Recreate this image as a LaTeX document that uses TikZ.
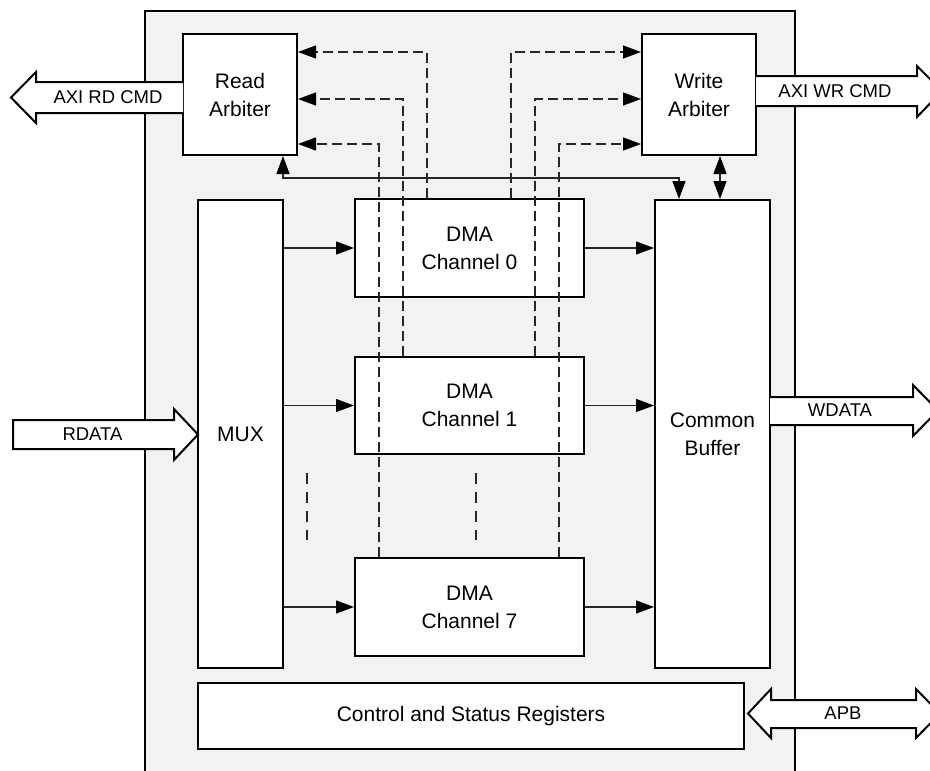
\documentclass[tikz,border=0pt]{standalone}
\usepackage{fontspec}
\setmainfont{Liberation Sans}
\usetikzlibrary{arrows.meta,calc}
\definecolor{bg}{HTML}{F2F2F2}
\begin{document}
\begin{tikzpicture}[x=1pt,y=-1pt,
  box/.style={draw=black,line width=2pt,fill=white,align=center,inner sep=0pt,font=\fontsize{21}{28}\selectfont},
  lin/.style={line width=1.2pt,draw=black!85},
  tip/.style={-{Triangle[length=18pt,width=13pt,black]}},
  dtip/.style={{Triangle[length=18pt,width=13pt,black]}-{Triangle[length=18pt,width=13pt,black]}},
  dsh/.style={lin,dash pattern=on 10pt off 5pt},
  fat/.style={line width=2pt,draw=black,fill=white,line join=miter},
  lab/.style={font=\fontsize{18.5}{20}\selectfont,inner sep=0pt}]
\useasboundingbox (0,0) rectangle (930,771);
% outer block
\fill[bg] (145,11) rectangle (795,771);
\draw[line width=2pt] (145,771) -- (145,11) -- (795,11) -- (795,771);

% blocks
\node[box,minimum width=114pt,minimum height=121pt] (ra) at (240,94.5) {Read\\Arbiter};
\node[box,minimum width=114pt,minimum height=121pt] (wa) at (699,94.5) {Write\\Arbiter};
\node[box,minimum width=85pt,minimum height=468pt] (mux) at (240.5,434) {MUX};
\node[box,minimum width=115pt,minimum height=468pt] (cb) at (712.5,434) {Common\\Buffer};
\node[box,minimum width=229pt,minimum height=98pt] (d0) at (469.5,248) {DMA\\Channel 0};
\node[box,minimum width=229pt,minimum height=97pt] (d1) at (469.5,405.5) {DMA\\Channel 1};
\node[box,minimum width=229pt,minimum height=98pt] (d7) at (469.5,607) {DMA\\Channel 7};
\node[box,minimum width=546pt,minimum height=66pt] (csr) at (471,716) {Control and Status Registers};

% helper coordinates
\coordinate (xa) at (379,0);
\coordinate (xb) at (403,0);
\coordinate (xc) at (427,0);
\coordinate (xd) at (511,0);
\coordinate (xe) at (535,0);
\coordinate (xf) at (559,0);
\coordinate (ya) at (0,52);
\coordinate (yb) at (0,99);
\coordinate (yc) at (0,144);
\coordinate (xl) at (283,0);
\coordinate (xr) at (679,0);
\coordinate (yl) at (0,178);
\coordinate (xw) at (720,0);

% dashed request lines
\draw[dsh,tip] (xc |- d0.north) |- (ra.east |- ya);
\draw[dsh,tip] (xb |- d1.north) |- (ra.east |- yb);
\draw[dsh,tip] (xa |- d7.north) |- (ra.east |- yc);
\draw[dsh,tip] (xd |- d0.north) |- (wa.west |- ya);
\draw[dsh,tip] (xe |- d1.north) |- (wa.west |- yb);
\draw[dsh,tip] (xf |- d7.north) |- (wa.west |- yc);

% ellipsis
\draw[lin,dash pattern=on 11pt off 8pt] (307,473) -- (307,540);
\draw[lin,dash pattern=on 11pt off 8pt] (476,473) -- (476,540);

% data arrows
\draw[lin,tip] (mux.east |- d0.west) -- (d0.west);
\draw[lin,tip] (mux.east |- d1.west) -- (d1.west);
\draw[lin,tip] (mux.east |- d7.west) -- (d7.west);
\draw[lin,tip] (d0.east) -- (cb.west |- d0.east);
\draw[lin,tip] (d1.east) -- (cb.west |- d1.east);
\draw[lin,tip] (d7.east) -- (cb.west |- d7.east);

% arbiter / buffer links
\draw[lin,dtip] (ra.south -| xl) -- (xl |- yl) -- (xr |- yl) -- (cb.north -| xr);
\draw[lin,dtip] (wa.south -| xw) -- (cb.north -| xw);

% external wide arrows
\draw[fat] (183,82) -- (36,82) -- (36,72) -- (11,97.5) -- (36,123) -- (36,113) -- (183,113);
\node[lab] (lrd) at (108,97.5) {AXI RD CMD};
\draw[fat] (756,76) -- (917,76) -- (917,66) -- (942,91) -- (917,117) -- (917,106) -- (756,106);
\node[lab] (lwr) at (835,91) {AXI WR CMD};
\draw[fat] (13,420) -- (174,420) -- (174,409) -- (198,434.5) -- (174,460) -- (174,449) -- (13,449) -- cycle;
\node[lab] (lrdata) at (92.5,434.5) {RDATA};
\draw[fat] (770,397) -- (913,397) -- (913,385) -- (938,410.5) -- (913,436) -- (913,425) -- (770,425);
\node[lab] (lwdata) at (840,410.5) {WDATA};
\draw[fat] (748,713.5) -- (771,689) -- (771,700) -- (916,700) -- (916,689) -- (940,713.5) -- (916,738) -- (916,728) -- (771,728) -- (771,738) -- cycle;
\node[lab] (lapb) at (843,713.5) {APB};
\end{tikzpicture}
\end{document}
